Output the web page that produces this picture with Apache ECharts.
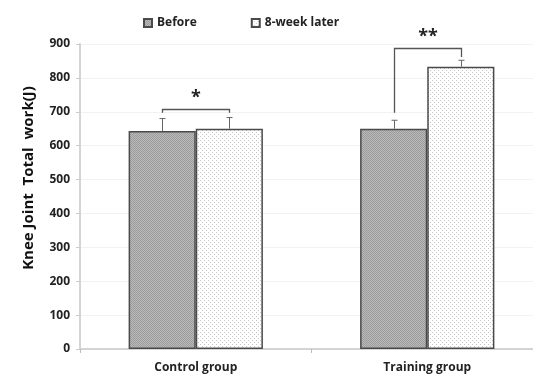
<!DOCTYPE html>
<html>
<head>
<meta charset="utf-8">
<style>
  html, body { margin: 0; padding: 0; background: #fff; overflow: hidden; }
  #chart { width: 545px; height: 374px; }
</style>
<script src="https://cdn.jsdelivr.net/npm/echarts@6/dist/echarts.min.js"></script>
</head>
<body>
<div id="chart"></div>
<script>
// Knee joint total work before and after 8 weeks, by group
const categories = ['Control group', 'Training group'];
const seriesNames = ['Before', '8-week later'];
const beforeValues = [643, 650];
const afterValues = [650, 833];
// upper ends of the error bars
const beforeErrTop = [680, 675];
const afterErrTop = [683, 852];
// significance brackets: [category, bracket level, left leg end, right leg end, label]
const brackets = [
  [0, 709, 697, 697, '*'],
  [1, 887, 697, 862, '**']
];
const yTicks = [0, 100, 200, 300, 400, 500, 600, 700, 800, 900];

const FONT = 'Open Sans';

// fill patterns for the two series
function makePattern(bg, dot, size, cell) {
  const c = document.createElement('canvas');
  c.width = size; c.height = size;
  const g = c.getContext('2d');
  g.fillStyle = bg; g.fillRect(0, 0, size, size);
  g.fillStyle = dot;
  for (let y = 0; y < size; y += cell) {
    for (let x = 0; x < size; x += cell) {
      if (((x / cell) + (y / cell)) % 2 === 0) g.fillRect(x, y, 1, 1);
    }
  }
  return c;
}
const beforePattern = makePattern('#bababa', '#9c9c9c', 4, 1);
const afterPattern = makePattern('#ffffff', '#c4c4c4', 4, 2);

const CAT_GAP = 0.42;
const HALF_OFFSET = (1 - CAT_GAP) / 4; // bar centre offset as share of band

function errRender(side, tops, values) {
  return function (params, api) {
    const i = api.value(0);
    const band = api.size([1, 0])[0];
    const base = api.coord([i, values[i]]);
    const top = api.coord([i, tops[i]]);
    const x = Math.round(base[0] + side * band * HALF_OFFSET) + 0.5;
    return {
      type: 'group',
      children: [
        { type: 'line', shape: { x1: x, y1: base[1], x2: x, y2: top[1] },
          style: { stroke: '#666', lineWidth: 1 } },
        { type: 'line', shape: { x1: x - 3, y1: top[1], x2: x + 3, y2: top[1] },
          style: { stroke: '#666', lineWidth: 1 } }
      ]
    };
  };
}

function bracketRender(params, api) {
  const b = brackets[params.dataIndex];
  const i = b[0];
  const band = api.size([1, 0])[0];
  const c = api.coord([i, b[1]]);
  const xl = Math.round(c[0] - band * HALF_OFFSET) + 0.5;
  const xr = Math.round(c[0] + band * HALF_OFFSET) + 0.5;
  const yTop = Math.round(c[1]) + 0.5;
  const yL = api.coord([i, b[2]])[1];
  const yR = api.coord([i, b[3]])[1];
  return {
    type: 'group',
    children: [
      { type: 'polyline', shape: { points: [[xl, yL], [xl, yTop], [xr, yTop], [xr, yR]] },
        style: { stroke: '#555', lineWidth: 1.3, fill: null } },
      { type: 'text', x: (xl + xr) / 2, y: yTop - 3,
        style: { text: b[4], fill: '#222', font: 'bold 18px ' + FONT,
                 align: 'center', verticalAlign: 'bottom' } }
    ]
  };
}

const chart = echarts.init(document.getElementById('chart'), null, { renderer: 'canvas' });
chart.setOption({
  animation: false,
  backgroundColor: '#fff',
  grid: { left: 80, top: 44, width: 463, height: 306, containLabel: false },
  legend: {
    top: 12, left: 138, itemGap: 54, itemWidth: 8, itemHeight: 8,
    data: seriesNames,
    textStyle: { fontFamily: FONT, fontWeight: 'bold', fontSize: 12, color: '#222' },
    icon: 'rect'
  },
  graphic: [{
    type: 'text', x: 29, y: 178, rotation: Math.PI / 2,
    style: { text: 'Knee Joint  Total  work(J)', font: 'bold 15px ' + FONT,
             fill: '#111', align: 'center', verticalAlign: 'middle' }
  }],
  xAxis: {
    type: 'category', data: categories,
    axisLine: { lineStyle: { color: '#d4d4d4', width: 2 } },
    axisTick: { show: true, length: 4, lineStyle: { color: '#bbb' } },
    axisLabel: { fontFamily: FONT, fontWeight: 'bold', fontSize: 12, color: '#222', margin: 13 },
    splitLine: { show: false }
  },
  yAxis: {
    type: 'value', min: yTicks[0], max: yTicks[yTicks.length - 1], interval: 100,
    axisLine: { show: true, lineStyle: { color: '#d4d4d4', width: 2 } },
    axisTick: { show: true, length: 4, lineStyle: { color: '#ccc' } },
    axisLabel: { fontFamily: FONT, fontWeight: 'bold', fontSize: 12, color: '#222', margin: 10 },
    splitLine: { lineStyle: { color: '#f2f2f2' } }
  },
  series: [
    {
      name: seriesNames[0], type: 'bar', data: beforeValues,
      barGap: '0%', barCategoryGap: (CAT_GAP * 100) + '%',
      itemStyle: { color: { image: beforePattern, repeat: 'repeat' }, borderColor: '#4a4a4a', borderWidth: 1.5 },
      z: 2
    },
    {
      name: seriesNames[1], type: 'bar', data: afterValues,
      itemStyle: { color: { image: afterPattern, repeat: 'repeat' }, borderColor: '#4a4a4a', borderWidth: 1.5 },
      z: 2
    },
    { type: 'custom', data: [0, 1], renderItem: errRender(-1, beforeErrTop, beforeValues), z: 3, silent: true },
    { type: 'custom', data: [0, 1], renderItem: errRender(1, afterErrTop, afterValues), z: 3, silent: true },
    { type: 'custom', data: brackets.map(b => [b[0], b[1]]), renderItem: bracketRender, z: 4, silent: true }
  ]
});
</script>
</body>
</html>
